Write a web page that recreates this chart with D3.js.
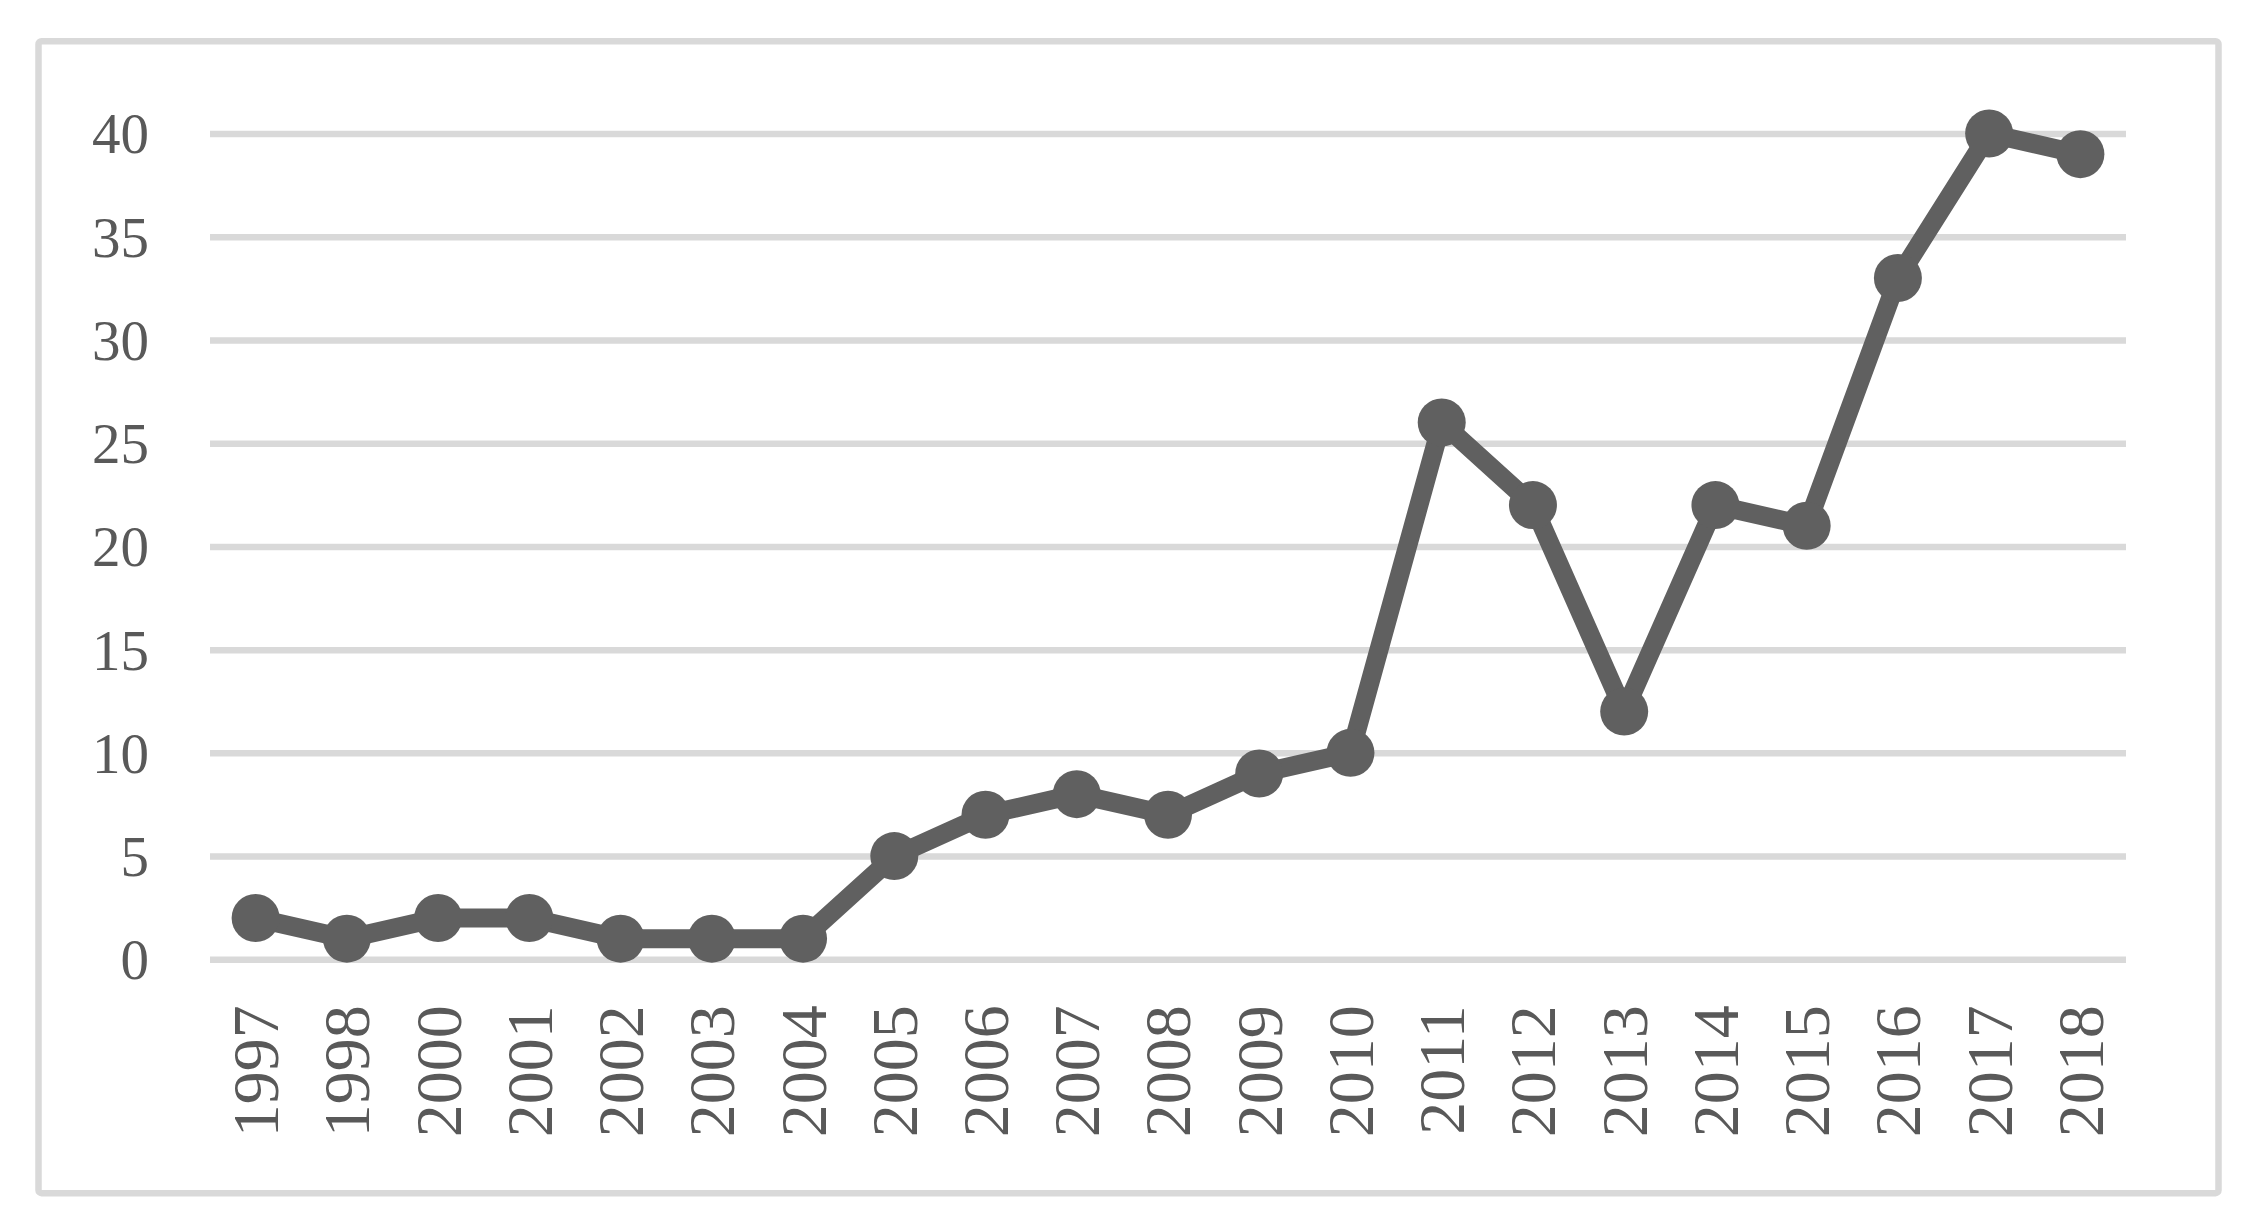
<!DOCTYPE html>
<html><head><meta charset="utf-8">
<script src="https://cdn.jsdelivr.net/npm/d3@7"></script>
<style>html,body{margin:0;padding:0;background:#fff;}svg{display:block;}</style>
</head><body>
<svg id="chart" width="2252" height="1222"></svg>
<script>
const years = ["1997","1998","2000","2001","2002","2003","2004","2005","2006","2007","2008","2009","2010","2011","2012","2013","2014","2015","2016","2017","2018"];
const counts = [2,1,2,2,1,1,1,5,7,8,7,9,10,26,22,12,22,21,33,40,39];
const yTicks = [0,5,10,15,20,25,30,35,40];

const svg = d3.select("#chart");
const W = 2252, H = 1222;
const plot = {left: 210, right: 2126, top: 133.5, bottom: 959.3};
const font = "'Liberation Serif', 'Times New Roman', serif";
const textColor = "#595959";
const lineColor = "#606060";

svg.append("rect").attr("width", W).attr("height", H).attr("fill", "#fff");
svg.append("rect")
  .attr("x", 38.5).attr("y", 41.2).attr("width", 2180).attr("height", 1152)
  .attr("rx", 3)
  .attr("fill", "none").attr("stroke", "#d9d9d9").attr("stroke-width", 6.5);

const x = d3.scaleBand().domain(years).range([plot.left, plot.right]);
const y = d3.scaleLinear().domain([0, 40]).range([plot.bottom, plot.top]);

// gridlines
const yAxis = d3.axisLeft(y).tickValues(yTicks).tickSize(-(plot.right - plot.left)).tickPadding(61).tickFormat(d3.format("d"));
const gy = svg.append("g").attr("transform", `translate(${plot.left},0)`).call(yAxis);
gy.select(".domain").remove();
gy.selectAll(".tick line").attr("stroke", "#d9d9d9").attr("stroke-width", 6.5);
gy.selectAll(".tick text").attr("fill", textColor).attr("font-family", font).attr("font-size", 57).attr("dy", "0.34em");

// x axis labels
const xAxis = d3.axisBottom(x).tickSize(0).tickPadding(0);
const gx = svg.append("g").attr("transform", `translate(0,${plot.bottom})`).call(xAxis);
gx.select(".domain").remove();
gx.selectAll(".tick text")
  .attr("fill", textColor).attr("font-family", font).attr("font-size", 66)
  .attr("text-anchor", "end")
  .attr("transform", "translate(0,46) rotate(-90)")
  .attr("x", 0).attr("y", 0).attr("dy", "0.34em");

const cx = d => x(d) + x.bandwidth() / 2;
const data = years.map((yr, i) => ({yr, v: counts[i]}));

svg.append("path").datum(data)
  .attr("fill", "none").attr("stroke", lineColor).attr("stroke-width", 19)
  .attr("stroke-linejoin", "round")
  .attr("d", d3.line().x(d => cx(d.yr)).y(d => y(d.v)));

svg.selectAll("circle.pt").data(data).enter().append("circle")
  .attr("class", "pt")
  .attr("cx", d => cx(d.yr)).attr("cy", d => y(d.v)).attr("r", 24)
  .attr("fill", lineColor);
</script>
</body></html>
